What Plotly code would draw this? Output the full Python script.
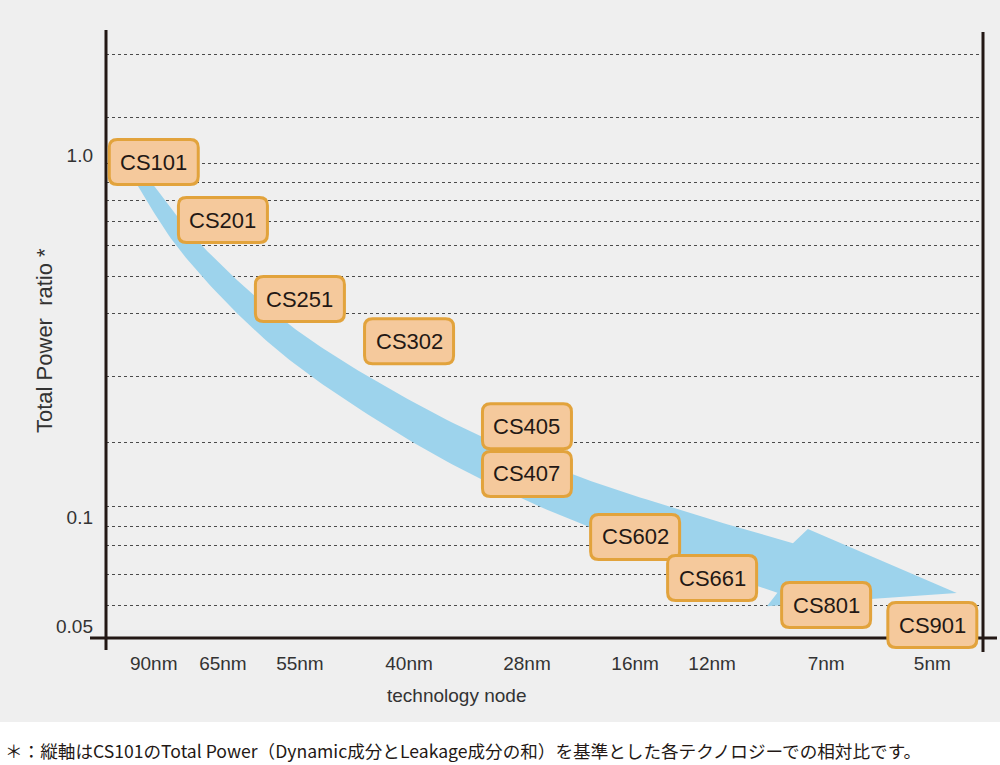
import numpy as np
import plotly.graph_objects as go

# technology nodes on the x axis and where they sit (0..9 scale)
nodes = ["90nm", "65nm", "55nm", "40nm", "28nm", "16nm", "12nm", "7nm", "5nm"]
node_x = [0.49, 1.20, 1.99, 3.11, 4.32, 5.43, 6.22, 7.39, 8.48]

# products and their total power ratio (CS101 = 1)
products = ["CS101", "CS201", "CS251", "CS302", "CS405", "CS407", "CS602", "CS661", "CS801", "CS901"]
product_node = ["90nm", "65nm", "55nm", "40nm", "28nm", "28nm", "16nm", "12nm", "7nm", "5nm"]
power_ratio = [0.956, 0.661, 0.400, 0.306, 0.178, 0.1315, 0.0881, 0.0678, 0.0571, 0.0503]

# dotted reference levels and labelled ticks
grid_levels = [1.90, 1.27, 0.95, 0.842, 0.751, 0.657, 0.561, 0.463, 0.366, 0.244,
               0.161, 0.1066, 0.0944, 0.0832, 0.0692, 0.0568]
y_ticks = [1.0, 0.1, 0.05]
y_ticktext = ["1.0", "0.1", "0.05"]

# trend arrow guide points (last one = arrow tip)
trend_x = [0.35, 0.86, 1.63, 2.41, 3.53, 4.66, 5.89, 6.97, 8.73]
trend_ratio = [0.864, 0.557, 0.346, 0.242, 0.161, 0.117, 0.0892, 0.0723, 0.0617]

W, H = 1000, 765
L, R, T, B = 106, 17, 30, 127
PW, PH = W - L - R, H - T - B
X_RANGE = [0, 9]
Y_RANGE = [-1.3343, 0.3453]  # log10

FONT = "Liberation Sans, Arial, Helvetica, sans-serif"
INK = "#231815"


def to_px(x, v):
    px = L + (np.asarray(x) - X_RANGE[0]) / (X_RANGE[1] - X_RANGE[0]) * PW
    py = T + (Y_RANGE[1] - np.log10(v)) / (Y_RANGE[1] - Y_RANGE[0]) * PH
    return px, py


def from_px(px, py):
    x = X_RANGE[0] + (np.asarray(px) - L) / PW * (X_RANGE[1] - X_RANGE[0])
    lv = Y_RANGE[1] - (np.asarray(py) - T) / PH * (Y_RANGE[1] - Y_RANGE[0])
    return x, 10 ** lv


def catmull(pts, n=20):
    pts = np.asarray(pts, dtype=float)
    ext = np.vstack([2 * pts[0] - pts[1], pts, 2 * pts[-1] - pts[-2]])
    out = []
    for i in range(1, len(ext) - 2):
        p0, p1, p2, p3 = ext[i - 1], ext[i], ext[i + 1], ext[i + 2]
        for t in np.linspace(0, 1, n, endpoint=False):
            out.append(0.5 * ((2 * p1) + (-p0 + p2) * t
                              + (2 * p0 - 5 * p1 + 4 * p2 - p3) * t ** 2
                              + (-p0 + 3 * p1 - 3 * p2 + p3) * t ** 3))
    out.append(pts[-1])
    return np.array(out)


def box_path(cx, cy, hw=44.5, hh=22.5, r=8):
    # rounded rectangle around a pixel centre, written in paper coords
    def p(px, py):
        return f"{(px - L) / PW:.5f},{(T + PH - py) / PH:.5f}"
    x0, x1, y0, y1 = cx - hw, cx + hw, cy - hh, cy + hh
    return (f"M {p(x0 + r, y0)} L {p(x1 - r, y0)} Q {p(x1, y0)} {p(x1, y0 + r)} "
            f"L {p(x1, y1 - r)} Q {p(x1, y1)} {p(x1 - r, y1)} "
            f"L {p(x0 + r, y1)} Q {p(x0, y1)} {p(x0, y1 - r)} "
            f"L {p(x0, y0 + r)} Q {p(x0, y0)} {p(x0 + r, y0)} Z")


# --- arrow polygon, built in pixel space then mapped back to data
gx, gy = to_px(trend_x, trend_ratio)
shaft = catmull(np.column_stack([gx[:-1], gy[:-1]]))
seg = np.diff(shaft, axis=0)
arc = np.concatenate([[0], np.cumsum(np.hypot(seg[:, 0], seg[:, 1]))])
s = arc / arc[-1]
hw = 6 + 20 * s ** 0.75
tang = np.gradient(shaft, axis=0)
tang /= np.hypot(tang[:, 0], tang[:, 1])[:, None]
nrm = np.column_stack([tang[:, 1], -tang[:, 0]])  # points "up" on screen
upper = shaft + nrm * hw[:, None]
lower = shaft - nrm * hw[:, None]
end, n_end, t_end = shaft[-1], nrm[-1], tang[-1]
barb_up = end + n_end * 44 + t_end * 10
barb_dn = end - n_end * 42 - t_end * 6
tip = np.array([gx[-1], gy[-1]])
poly = np.vstack([upper, barb_up, tip, barb_dn, lower[::-1], upper[:1]])
arrow_x, arrow_y = from_px(poly[:, 0], poly[:, 1])

fig = go.Figure()

fig.add_trace(go.Scatter(
    x=arrow_x, y=arrow_y, mode="lines", fill="toself",
    fillcolor="#9dd3ec", line=dict(width=0), hoverinfo="skip", showlegend=False))

pos = dict(zip(nodes, node_x))
prod_x = [pos[n] for n in product_node]

# invisible points carry hover info
fig.add_trace(go.Scatter(
    x=prod_x, y=power_ratio, mode="markers", marker=dict(size=1, opacity=0),
    text=products, hovertemplate="%{text}: %{y:.3f}<extra></extra>", showlegend=False))

shapes = []
# white strip under the chart
shapes.append(dict(type="rect", xref="paper", yref="paper",
                   x0=-L / PW, x1=(W - L) / PW, y0=-B / PH, y1=-(722 - (T + PH)) / PH,
                   fillcolor="white", line=dict(width=0), layer="below"))
# axis frame with overshoots
shapes += [
    dict(type="line", xref="paper", yref="paper", x0=0, x1=0, y0=-12 / PH, y1=1,
         line=dict(color=INK, width=3), layer="above"),
    dict(type="line", xref="paper", yref="paper", x0=1, x1=1, y0=-14 / PH, y1=1 - 2 / PH,
         line=dict(color=INK, width=3), layer="above"),
    dict(type="line", xref="paper", yref="paper", x0=-16 / PW, x1=1 + 14 / PW, y0=0, y1=0,
         line=dict(color=INK, width=3), layer="above"),
]
# product boxes (paper refs so they can sit over the axis line)
bx, by = to_px(prod_x, power_ratio)
for cx, cy in zip(bx, by):
    shapes.append(dict(type="path", xref="paper", yref="paper", path=box_path(cx, cy),
                       fillcolor="#f5c99c", line=dict(color="#e2a33c", width=3), layer="above"))

annotations = []
for px_, v, name in zip(prod_x, power_ratio, products):
    annotations.append(dict(x=px_, y=np.log10(v), xref="x", yref="y", text=name,
                            xanchor="center", yanchor="middle", showarrow=False,
                            font=dict(family=FONT, size=22, color=INK)))

annotations.append(dict(x=(456 - L) / PW, y=-(695 - T - PH) / PH, xref="paper", yref="paper",
                        xanchor="center", yanchor="middle",
                        text="technology node", showarrow=False,
                        font=dict(family=FONT, size=19, color="#333333")))
annotations.append(dict(x=(44 - L) / PW, y=(T + PH - 341) / PH, xref="paper", yref="paper",
                        xanchor="center", yanchor="middle",
                        text="Total Power  ratio *", textangle=-90, showarrow=False,
                        font=dict(family=FONT, size=22, color="#333333")))
annotations.append(dict(x=(3 - L) / PW, y=-(750 - T - PH) / PH, xref="paper", yref="paper",
                        xanchor="left", yanchor="middle", showarrow=False,
                        text="＊：縦軸はCS101のTotal Power（Dynamic成分とLeakage成分の和）を基準とした各テクノロジーでの相対比です。",
                        font=dict(family="Noto Sans CJK JP, sans-serif", size=17.6, color="#231815")))

fig.update_layout(
    width=W, height=H, autosize=False,
    margin=dict(l=L, r=R, t=T, b=B),
    paper_bgcolor="#efefef", plot_bgcolor="#efefef",
    showlegend=False, shapes=shapes, annotations=annotations,
    xaxis=dict(range=X_RANGE, tickmode="array", tickvals=node_x, ticktext=nodes,
               showgrid=False, zeroline=False, showline=False, ticks="",
               ticklabelstandoff=12, tickfont=dict(family=FONT, size=19, color="#333333")),
    yaxis=dict(type="log", range=Y_RANGE, tickmode="array", tickvals=y_ticks,
               ticktext=y_ticktext, showgrid=False, zeroline=False, showline=False,
               ticks="", ticklabelstandoff=12,
               tickfont=dict(family=FONT, size=19, color="#333333"),
               minor=dict(tickmode="array", tickvals=grid_levels, showgrid=True,
                          gridcolor="#4a4a4a", gridwidth=1, griddash="3px,3px", ticks="")),
)

fig.write_html("out.html", config={"displayModeBar": False},
               post_script="document.body.style.margin='0';")
